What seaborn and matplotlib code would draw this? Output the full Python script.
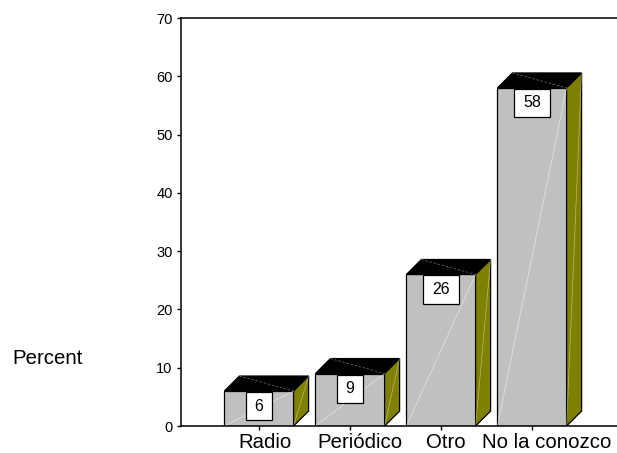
import matplotlib
matplotlib.use("Agg")
import matplotlib.pyplot as plt
from matplotlib.patches import Polygon
from matplotlib.path import Path
import pandas as pd
import seaborn as sns

# Survey answers and their percentages
categories = ["Radio", "Periódico", "Otro", "No la conozco"]
percent = [6, 9, 26, 58]
y_ticks = [0, 10, 20, 30, 40, 50, 60, 70]

sns.set_style("white")
plt.rcParams["font.family"] = ["Liberation Sans", "DejaVu Sans"]
plt.rcParams["text.color"] = "black"

df = pd.DataFrame({"medio": categories, "pct": percent})

W, H = 617, 453
fig = plt.figure(figsize=(W / 100, H / 100), dpi=100)
ax = fig.add_axes([181 / W, 27 / H, 1 - 181 / W, 408 / H])

front = "#c0c0c0"
side = "#808000"
sns.barplot(data=df, x="medio", y="pct", color=front, saturation=1,
            width=0.76, edgecolor="black", linewidth=0.9, ax=ax, zorder=2)

ax.set_ylim(0, 70)
ax.set_xlim(-0.857, 3.934)


def label_box(x0, y0, width, height, mutation_size):
    """Rectangle with wider side padding than top/bottom padding."""
    px = 0.56 * mutation_size
    py = 0.41 * mutation_size
    xa, ya = x0 - px, y0 - py
    xb, yb = x0 + width + px, y0 + height + py
    return Path([(xa, ya), (xb, ya), (xb, yb), (xa, yb), (xa, ya)], closed=True)


# depth of the pseudo-3D boxes, in data units
dx, dy = 0.165, 2.57
fs = 11.5

for patch, v in zip(ax.patches, percent):
    x0, w, h = patch.get_x(), patch.get_width(), patch.get_height()
    x1 = x0 + w
    top = Polygon([(x0, h), (x1, h), (x1 + dx, h + dy), (x0 + dx, h + dy)],
                  closed=True, fc="black", ec="black", lw=0.9, zorder=2)
    right = Polygon([(x1, 0), (x1 + dx, dy), (x1 + dx, h + dy), (x1, h)],
                    closed=True, fc=side, ec="black", lw=0.9, zorder=2)
    ax.add_patch(top)
    ax.add_patch(right)
    # faint shading seams on the faces
    ax.plot([x0, x1], [0, h], color="white", lw=0.5, alpha=0.6, zorder=2.1)
    ax.plot([x1, x1 + dx], [0, h + dy], color="white", lw=0.5, alpha=0.45, zorder=2.1)
    ax.plot([x0 + dx, x1], [h + dy, h], color="#666666", lw=0.6,
            ls=(0, (3, 2)), zorder=2.1)

    off = -(1 + 0.41 * fs / 0.72) * 0.72
    ax.annotate(str(v), xy=(x0 + w / 2, h), xytext=(0, off),
                textcoords="offset points", ha="center", va="top",
                fontsize=fs, color="black", zorder=3,
                bbox=dict(boxstyle=label_box, fc="white", ec="black", lw=0.9))

ax.set_yticks(y_ticks)
ax.set_yticklabels([str(t) for t in y_ticks])
ax.set_xlabel("")
ax.set_ylabel("")

for s in ["left", "top", "bottom"]:
    ax.spines[s].set_visible(True)
    ax.spines[s].set_color("black")
    ax.spines[s].set_linewidth(1.1)
ax.spines["right"].set_visible(False)

ax.tick_params(axis="y", left=True, direction="out", length=3, width=1,
               pad=3, labelsize=10.5, colors="black")
ax.tick_params(axis="x", bottom=True, direction="out", length=3, width=1,
               labelbottom=False, colors="black")

# category names under the ticks, nudged slightly right of centre
renderer = fig.canvas.get_renderer()
for i, name in enumerate(categories):
    t = ax.annotate(name, xy=(i, 0), xycoords=("data", "axes fraction"),
                    xytext=(0, -5.2), textcoords="offset points",
                    ha="center", va="top", fontsize=14.7, color="black")
    tw = t.get_window_extent(renderer).width
    t.xyann = (0.115 * tw * 0.72, -5.2)

fig.text(12 / W, 1 - 358 / H, "Percent", fontsize=14.7, color="black",
         ha="left", va="center")

fig.savefig("out.png", dpi=100, facecolor="white")
